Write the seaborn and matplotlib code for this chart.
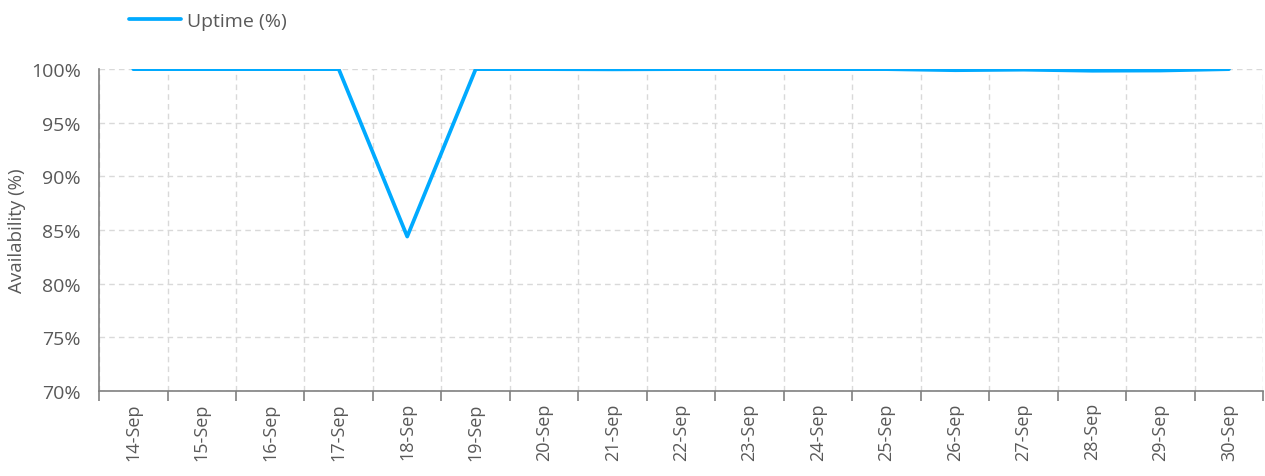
import matplotlib.pyplot as plt
import seaborn as sns
import numpy as np
import pandas as pd

# chart data
dates = ['14-Sep', '15-Sep', '16-Sep', '17-Sep', '18-Sep', '19-Sep', '20-Sep', '21-Sep', '22-Sep',
         '23-Sep', '24-Sep', '25-Sep', '26-Sep', '27-Sep', '28-Sep', '29-Sep', '30-Sep']
uptime = [100, 100, 100, 100, 84.4, 100, 100, 99.98, 100, 100, 100, 100, 99.9, 99.95, 99.85, 99.87, 100]
y_ticks = [70, 75, 80, 85, 90, 95, 100]

sns.set_style('white')
plt.rcParams['font.family'] = ['Open Sans', 'DejaVu Sans']

df = pd.DataFrame({'pos': np.arange(len(dates)), 'uptime': uptime})

fig = plt.figure(figsize=(12.65, 4.77), dpi=100)
ax = fig.add_axes([0.0783, 0.178, 0.9203, 0.675])

sns.lineplot(data=df, x='pos', y='uptime', ax=ax, color='#00AAFF', linewidth=2.7,
             label='Uptime (%)', legend=False)

grey = '#595959'
ax.set_xlim(-0.5, len(dates) - 0.5)
ax.set_ylim(70, 100)
ax.set_yticks(y_ticks)
ax.set_yticklabels([f'{v}%' for v in y_ticks], fontsize=14, color=grey)
ax.set_xticks(df['pos'])
ax.set_xticklabels(dates, rotation=90, fontsize=13, color=grey)
ax.set_xticks(np.arange(len(dates) + 1) - 0.5, minor=True)
ax.tick_params(axis='x', which='major', bottom=False, length=0, pad=8)
ax.tick_params(axis='x', which='minor', bottom=True, length=7, width=1.2,
               color='#808080', direction='out')
ax.tick_params(axis='y', length=0, pad=13)

ax.grid(False)
ax.yaxis.grid(True, color='#d9d9d9', linestyle=(0, (4, 3)), linewidth=1)
ax.xaxis.grid(True, which='minor', color='#d9d9d9', linestyle=(0, (4, 3)), linewidth=1)
ax.set_axisbelow(True)

for s in ['top', 'right']:
    ax.spines[s].set_visible(False)
for s in ['left', 'bottom']:
    ax.spines[s].set_color('#808080')
    ax.spines[s].set_linewidth(1.2)

ax.set_xlabel('')
ax.set_ylabel('Availability (%)', fontsize=13.5, color=grey, labelpad=4)

leg = fig.legend(loc='upper left', bbox_to_anchor=(0.088, 1.01), frameon=False,
                 fontsize=14, handlelength=2.7, handletextpad=0.3)
for t in leg.get_texts():
    t.set_color(grey)

fig.savefig('out.png', dpi=100)
